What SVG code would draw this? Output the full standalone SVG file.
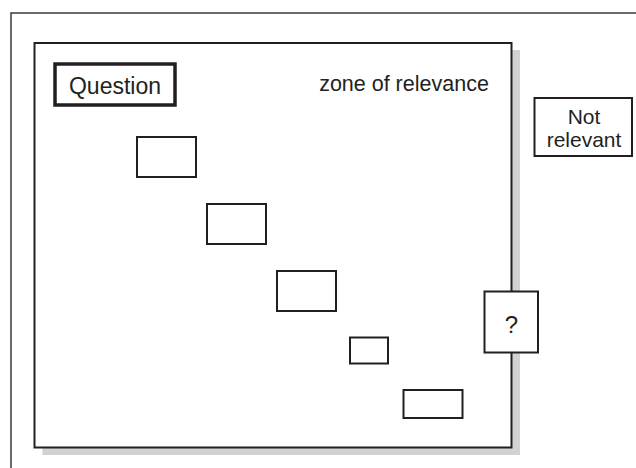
<svg xmlns="http://www.w3.org/2000/svg" width="636" height="468" viewBox="0 0 636 468">
<style>
.box{fill:#fff;stroke:#231f20;stroke-width:2}
.thick{fill:#fff;stroke:#231f20;stroke-width:3.5}
.lbl{font-family:"Liberation Sans",Arial,Helvetica,sans-serif;fill:#231f20}
</style>
<rect width="636" height="468" fill="#fff"/>
<path d="M11,468 V13 H636" fill="none" stroke="#3a3a3a" stroke-width="1.5"/>
<g id="zone">
<rect x="42.5" y="50" width="477.5" height="405" fill="#d1d2d4"/>
<rect x="34.5" y="43" width="477" height="404.5" class="box"/>
<text x="404" y="90.5" class="lbl" font-size="21.5" text-anchor="middle">zone of relevance</text>
</g>
<g id="question">
<rect x="55" y="64" width="120" height="41" class="thick"/>
<text x="115" y="94" class="lbl" font-size="23" text-anchor="middle">Question</text>
</g>
<g id="b1"><rect x="137" y="137" width="59" height="40" class="box"/></g>
<g id="b2"><rect x="207" y="204" width="59" height="40" class="box"/></g>
<g id="b3"><rect x="277" y="271" width="59" height="40" class="box"/></g>
<g id="b4"><rect x="350" y="337.5" width="38" height="26" class="box"/></g>
<g id="b5"><rect x="403.5" y="390" width="59" height="28" class="box"/></g>
<g id="unknown">
<rect x="484.5" y="291.5" width="53.5" height="61" class="box"/>
<text x="511.5" y="333" class="lbl" font-size="24" text-anchor="middle">?</text>
</g>
<g id="notrelevant">
<rect x="534.5" y="98" width="97.5" height="58" class="box"/>
<text x="584" y="123.5" class="lbl" font-size="21" text-anchor="middle">Not</text>
<text x="584" y="147" class="lbl" font-size="21" text-anchor="middle">relevant</text>
</g>
<g id="connectors"/>
</svg>
